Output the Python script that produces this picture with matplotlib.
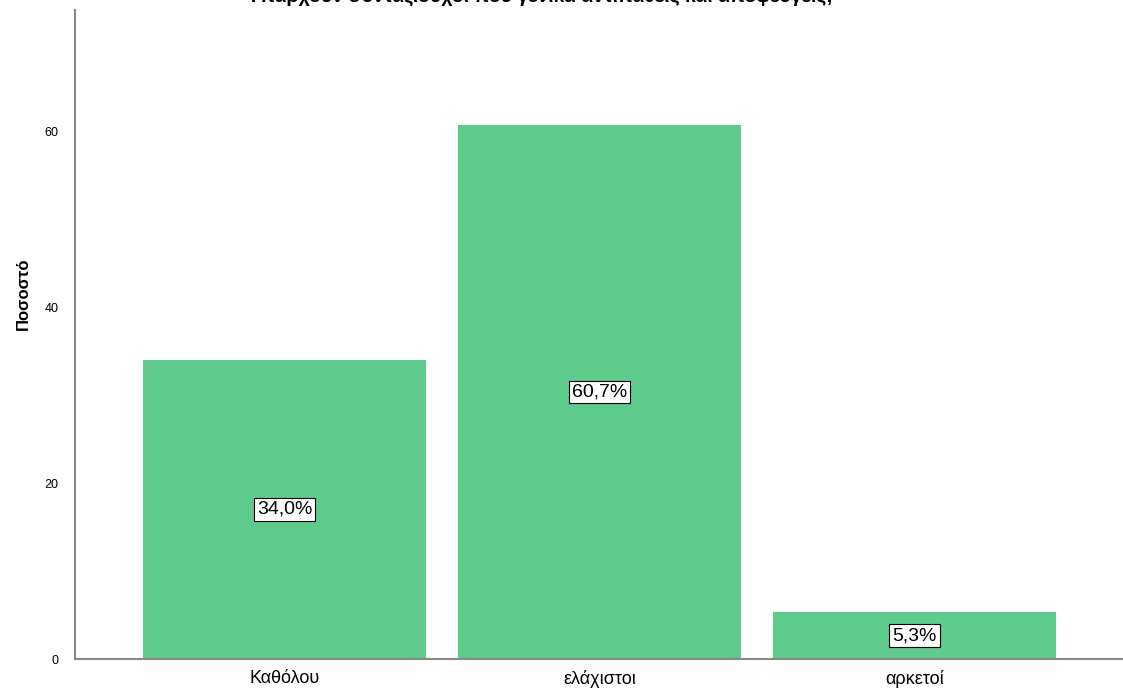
import matplotlib
matplotlib.use("Agg")
import matplotlib.pyplot as plt

plt.rcParams['font.family'] = ['Liberation Sans', 'DejaVu Sans']

# data
categories = ["Καθόλου", "ελάχιστοι", "αρκετοί"]
values = [34.0, 60.7, 5.3]
labels = ["34,0%", "60,7%", "5,3%"]
yticks = [0, 20, 40, 60]
title = "Υπάρχουν συνταξιούχοι που γενικά αντιπαθείς και αποφεύγεις;"

fig = plt.figure(figsize=(11.23, 6.95), dpi=100)
ax = fig.add_axes([75/1123, 1-659/695, 1048/1123, 649/695])

x = range(len(categories))
ax.bar(x, values, width=0.898, color="#5ECA8B", edgecolor="none")

for i, v in enumerate(values):
    ax.text(i, v/2, labels[i], ha="center", va="center", fontsize=14,
            bbox=dict(boxstyle="square,pad=0.15", fc="white", ec="black", lw=0.8))

ax.set_xlim(-0.665, 2.662)
ax.set_ylim(0, 73.75)
ax.set_xticks(list(x))
ax.set_xticklabels(categories, fontsize=13)
ax.set_yticks(yticks)
ax.set_yticklabels([str(t) for t in yticks], fontsize=9)
ax.tick_params(length=0)
ax.tick_params(axis="x", pad=8)
ax.tick_params(axis="y", pad=12)
ax.set_ylabel("Ποσοστό", fontsize=12, fontweight="bold")
ax.yaxis.set_label_coords(-0.042, 0.563)

for s in ["top", "right"]:
    ax.spines[s].set_visible(False)
for s in ["left", "bottom"]:
    ax.spines[s].set_color("#888888")
    ax.spines[s].set_linewidth(1.5)

fig.text(540/1123, 1-2/695, title, ha="center", va="baseline", fontsize=14,
         fontweight="bold")

fig.savefig("out.png", dpi=100)
